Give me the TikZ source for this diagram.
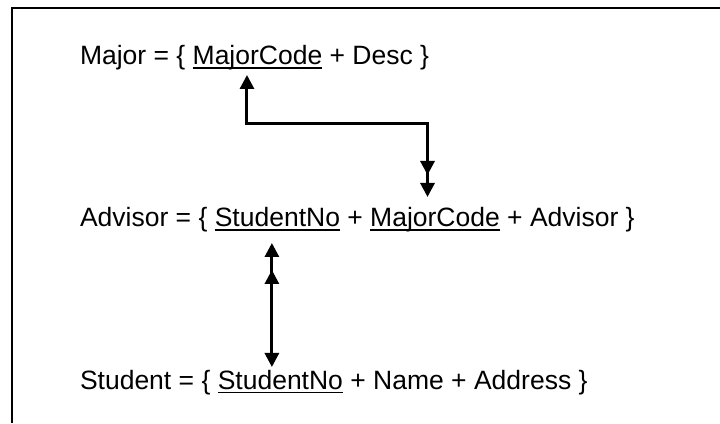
\documentclass[tikz,border=0pt]{standalone}
\usepackage{fontspec}
\setmainfont{Liberation Sans}
\usetikzlibrary{arrows.meta,decorations.markings}
\newcommand\ulword[1]{\setbox0\hbox{#1}\rlap{\rule[-4pt]{\wd0}{1.5pt}}\box0}
\newcommand\tsp{\hbox{\ }}
\begin{document}
\begin{tikzpicture}[x=1pt,y=1pt,
  txt/.style={inner sep=0pt, outer sep=0pt, anchor=base west, font=\fontsize{26.5}{30}\selectfont},
  conn/.style={line width=3pt, {Triangle[length=14pt,width=14pt]}-{Triangle[length=14pt,width=14pt]}},
  frameline/.style={line width=2pt}]
\useasboundingbox (0,0) rectangle (720,423);
\draw[frameline] (12,0) -- (12,414.5) -- (720,414.5);

\node[txt] (m1) at (80,358) {Major = \{\tsp};
\node[txt] (m2) at (m1.base east) {\ulword{MajorCode}};
\node[txt] (m3) at (m2.base east) {\ + Desc \}};

\node[txt] (a1) at (80,196) {Advisor = \{\tsp};
\node[txt] (a2) at (a1.base east) {\ulword{StudentNo}};
\node[txt] (a3) at (a2.base east) {\ +\tsp};
\node[txt] (a4) at (a3.base east) {\ulword{MajorCode}};
\node[txt] (a5) at (a4.base east) {\ + Advisor \}};

\node[txt] (s1) at (80,34) {Student = \{\tsp};
\node[txt] (s2) at (s1.base east) {\ulword{StudentNo}};
\node[txt] (s3) at (s2.base east) {\ + Name + Address \}};

\coordinate (t1) at ([xshift=-10.5pt,yshift=-10pt]m2.base);
\coordinate (b1) at ([xshift=-7.5pt,yshift=30pt]a4.base);
\draw[conn, postaction={decorate},
  decoration={markings, mark=at position -22pt with {\arrow{Triangle[length=14pt,width=14pt]}}}]
  (t1) -- ++(0,-49) -| (b1);

\coordinate (t2) at ([xshift=-5.5pt,yshift=-16pt]a2.base);
\coordinate (b2) at ([yshift=22pt]s2.base);
\draw[conn, postaction={decorate},
  decoration={markings, mark=at position 27pt with {\arrowreversed{Triangle[length=14pt,width=14pt]}}}]
  (t2) -- (t2 |- b2);
\end{tikzpicture}
\end{document}
